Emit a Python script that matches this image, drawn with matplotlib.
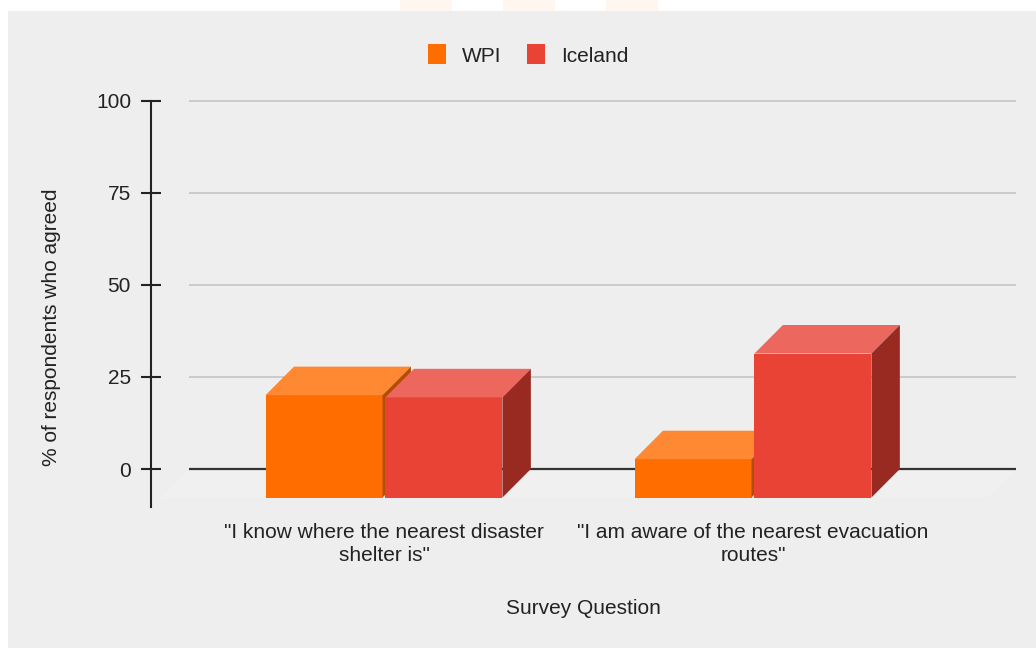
import matplotlib
matplotlib.use("Agg")
import matplotlib.pyplot as plt
from matplotlib.patches import Polygon, Rectangle, Patch

plt.rcParams["font.family"] = ["Liberation Sans", "DejaVu Sans"]

# ── data ─────────────────────────────────────────────────────────
questions = [
    "\"I know where the nearest disaster\nshelter is\"",
    "\"I am aware of the nearest evacuation\nroutes\"",
]
series = ["WPI", "Iceland"]
wpi = [27.8, 10.4]
iceland = [27.2, 39.1]
yticks = [0, 25, 50, 75, 100]

# front / top / side shades per series
colors = {
    "WPI": ("#ff6d01", "#ff8833", "#b34d00"),
    "Iceland": ("#e94335", "#ec685e", "#982a22"),
}

# 3D look: depth offset of the back plane (x in category units, y in data units)
DX, DY = 0.077, 7.74
BAR_W = 0.317
GAP = 0.008
TEXT = "#222222"
FS = 15


def draw_bar(ax, x0, v, cols):
    front, top, side = cols
    b = -DY
    ax.add_patch(Polygon([(x0, b), (x0 + BAR_W, b), (x0 + BAR_W, v - DY), (x0, v - DY)],
                         closed=True, facecolor=front, edgecolor="none", zorder=3))
    ax.add_patch(Polygon([(x0, v - DY), (x0 + BAR_W, v - DY), (x0 + BAR_W + DX, v), (x0 + DX, v)],
                         closed=True, facecolor=top, edgecolor="none", zorder=3))
    ax.add_patch(Polygon([(x0 + BAR_W, b), (x0 + BAR_W + DX, 0), (x0 + BAR_W + DX, v), (x0 + BAR_W, v - DY)],
                         closed=True, facecolor=side, edgecolor="none", zorder=3))


fig = plt.figure(figsize=(10.36, 6.48), dpi=100)
fig.patch.set_facecolor("white")
fig.patches.append(Rectangle((8 / 1036, 0), 1, 1 - 11 / 648, transform=fig.transFigure,
                             facecolor="#eeeeee", edgecolor="none", zorder=-10))
for px in (400, 503, 606):
    fig.patches.append(Rectangle((px / 1036, 1 - 11 / 648), 52 / 1036, 11 / 648,
                                 transform=fig.transFigure, facecolor="#fff6ef",
                                 edgecolor="none", zorder=-10))

ax = fig.add_axes([0.10352, 0.20370, 0.89044, 0.66363])
ax.set_zorder(1)
ax.set_facecolor("none")
ax.set_xlim(-0.75, 1.75)
ax.set_ylim(-12.76, 104)

# back-plane gridlines and floor
gx0, gx1 = -0.5285, 1.7127
ax.add_patch(Polygon([(gx0 - DX, -DY), (gx1 - DX, -DY), (gx1, 0), (gx0, 0)],
                     closed=True, facecolor="#f0f0f0", edgecolor="none", zorder=1))
ax.hlines(yticks[1:], gx0, gx1, colors="#c8c8c8", linewidth=1.3, zorder=1)
ax.hlines([0], gx0, gx1, colors="#333333", linewidth=1.6, zorder=2)

for i in range(len(questions)):
    left = i - BAR_W - GAP / 2
    draw_bar(ax, left, wpi[i], colors["WPI"])
    draw_bar(ax, i + GAP / 2, iceland[i], colors["Iceland"])

# axes styling
for s in ("top", "right", "bottom"):
    ax.spines[s].set_visible(False)
ax.spines["left"].set_position(("data", -0.6314))
ax.spines["left"].set_bounds(-10.3, 100)
ax.spines["left"].set_linewidth(1.5)
ax.spines["left"].set_color("#222222")
ax.set_yticks(yticks)
ax.tick_params(axis="y", direction="inout", length=14.4, width=1.5, color="#222222",
               pad=7.2, labelsize=FS, labelcolor=TEXT)
ax.set_xticks(range(len(questions)))
ax.set_xticklabels(questions, fontsize=FS, color=TEXT, linespacing=1.25)
ax.tick_params(axis="x", length=0, pad=5)

fig.text(52 / 1036, 1 - 327 / 648, "% of respondents who agreed", rotation=90,
         ha="center", va="center", fontsize=FS, color=TEXT)
fig.text(583 / 1036, 1 - 609 / 648, "Survey Question", ha="center", va="center",
         fontsize=FS, color=TEXT)

handles = [Patch(facecolor=colors[s][0], edgecolor="none") for s in series]
fig.legend(handles, series, loc="center", bbox_to_anchor=(528 / 1036, 1 - 55 / 648),
           ncol=2, frameon=False, fontsize=FS, handlelength=0.9, handleheight=1.1,
           handletextpad=0.75, columnspacing=1.2, labelcolor=TEXT)

fig.savefig("out.png", dpi=100)
